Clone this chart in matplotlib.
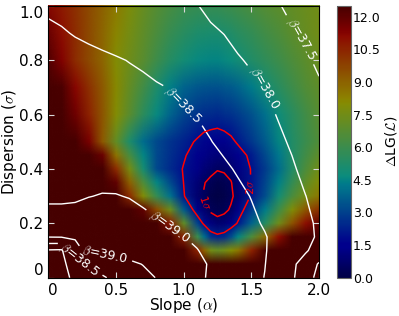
import numpy as np
import matplotlib
matplotlib.use('Agg')
import matplotlib.pyplot as plt
from matplotlib.colors import ListedColormap
from matplotlib.image import NonUniformImage

plt.rcParams['mathtext.fontset'] = 'cm'

# grid for Delta LG (finer around the minimum)
alpha_l = [0.0, 0.1, 0.2, 0.3, 0.4, 0.5, 0.6, 0.7, 0.8, 0.9, 1.0, 1.1,
           1.15, 1.2, 1.25, 1.3, 1.35, 1.4, 1.5, 1.6, 1.7, 1.8, 1.9, 2.0]
sigma_l = [0.0, 0.05, 0.1, 0.15, 0.2, 0.25, 0.3, 0.35, 0.4, 0.45,
           0.5, 0.6, 0.7, 0.8, 0.9, 1.0]

# Delta LG(L) (>12.5 is saturated)
dlg = [
    [16, 16, 16, 16, 16, 16, 16, 16, 16, 16, 16, 16, 16, 16, 16, 16, 16, 16, 16, 16, 16, 16, 16, 16],
    [16, 16, 16, 16, 16, 16, 16, 16, 16, 16, 16, 15, 14.2, 13.5, 13.3, 13.5, 13.7, 14, 15, 16, 16, 16, 16, 16],
    [16, 16, 16, 16, 16, 16, 16, 16, 16, 16, 14, 10.5, 9.0, 7.5, 7.2, 7.5, 8.0, 8.5, 10.5, 13.2, 15, 16, 16, 16],
    [16, 16, 16, 16, 16, 16, 16, 16, 16, 13.0, 10.5, 6.0, 4.0, 2.6, 2.3, 2.5, 3.3, 4.5, 6.5, 8.8, 11.0, 12.5, 14, 15],
    [16, 16, 16, 16, 16, 16, 16, 16, 13.5, 10.8, 7.0, 3.0, 1.8, 1.1, 0.8, 0.95, 1.3, 2.1, 3.8, 5.4, 7.4, 9.4, 11.0, 12.0],
    [16, 16, 16, 16, 16, 16, 14.5, 12.0, 9.5, 7.3, 3.6, 1.3, 0.8, 0.35, 0.2, 0.3, 0.6, 1.3, 2.9, 4.3, 6.1, 7.9, 9.3, 10.2],
    [16, 16, 16, 16, 16, 13.4, 10.3, 7.9, 5.8, 4.1, 2.1, 0.8, 0.45, 0.12, 0.0, 0.1, 0.35, 0.8, 2.1, 3.3, 4.9, 6.4, 7.6, 8.5],
    [16, 16, 16, 16, 15.0, 12.0, 9.0, 6.5, 4.5, 3.2, 2.0, 0.95, 0.55, 0.3, 0.15, 0.25, 0.45, 0.95, 2.05, 3.1, 4.4, 5.8, 7.0, 8.0],
    [16, 16, 16, 16, 14.0, 10.3, 7.6, 5.0, 3.2, 2.5, 1.95, 1.3, 0.95, 0.75, 0.55, 0.6, 0.8, 1.2, 2.05, 2.9, 4.0, 5.3, 6.5, 7.5],
    [16, 16, 16, 14.5, 11.8, 8.6, 6.3, 4.5, 3.2, 2.6, 2.1, 1.6, 1.3, 1.1, 1.0, 1.05, 1.2, 1.6, 2.2, 3.2, 4.2, 5.3, 6.2, 7.0],
    [16, 15, 14, 11.5, 9.2, 7.1, 5.2, 4.0, 3.2, 2.7, 2.3, 1.9, 1.7, 1.6, 1.55, 1.6, 1.8, 2.1, 2.8, 3.6, 4.5, 5.3, 6.0, 6.6],
    [15, 13.0, 11.7, 10.5, 9.3, 8.0, 6.8, 5.6, 4.6, 3.8, 3.1, 2.7, 2.55, 2.5, 2.45, 2.6, 2.7, 2.9, 3.4, 4.1, 4.8, 5.5, 6.2, 6.8],
    [15, 12.4, 11.2, 10.2, 9.2, 8.1, 7.1, 6.2, 5.2, 4.4, 3.8, 3.5, 3.45, 3.4, 3.4, 3.5, 3.6, 3.8, 4.3, 4.9, 5.5, 6.1, 6.6, 7.0],
    [12.3, 11.3, 10.3, 9.6, 8.9, 8.0, 7.4, 6.8, 6.1, 5.4, 4.9, 4.6, 4.55, 4.5, 4.5, 4.6, 4.7, 4.9, 5.3, 5.7, 6.1, 6.5, 6.9, 7.3],
    [11.8, 11.0, 10.3, 9.6, 8.9, 8.2, 7.6, 7.0, 6.4, 5.9, 5.5, 5.2, 5.15, 5.1, 5.1, 5.2, 5.3, 5.5, 5.8, 6.2, 6.5, 6.9, 7.2, 7.5],
    [11.2, 10.7, 10.2, 9.6, 9.0, 8.4, 7.8, 7.2, 6.7, 6.3, 6.0, 5.9, 5.9, 5.9, 5.9, 6.0, 6.1, 6.2, 6.4, 6.7, 6.9, 7.1, 7.3, 7.5],
]

# grid for beta
alpha_b = [0.0, 0.1, 0.2, 0.3, 0.4, 0.5, 0.6, 0.7, 0.8, 0.9, 1.0,
           1.1, 1.2, 1.3, 1.4, 1.5, 1.6, 1.7, 1.8, 1.9, 2.0]
sigma_b = [0.0, 0.05, 0.1, 0.15, 0.2, 0.3, 0.4, 0.5, 0.6, 0.7, 0.8, 0.9, 1.0]

# beta
beta = [
    [37.6, 37.85, 38.1, 38.3, 38.45, 38.6, 38.75, 38.9, 39.01, 39.08, 39.1, 39.05, 38.97, 38.85, 38.73, 38.62, 38.49, 38.27, 38.05, 37.8, 37.3],
    [37.7, 37.9, 38.2, 38.52, 38.7, 38.83, 38.93, 39.01, 39.07, 39.1, 39.09, 39.05, 38.98, 38.87, 38.76, 38.64, 38.51, 38.3, 38.07, 37.85, 37.45],
    [37.95, 37.93, 38.85, 39.12, 39.16, 39.17, 39.16, 39.14, 39.11, 39.08, 39.05, 39.01, 38.93, 38.84, 38.74, 38.63, 38.52, 38.38, 38.2, 38.04, 37.85],
    [39.01, 39.02, 39.04, 39.1, 39.13, 39.14, 39.13, 39.11, 39.08, 39.04, 39.005, 38.95, 38.87, 38.79, 38.7, 38.6, 38.52, 38.4, 38.26, 38.1, 37.95],
    [39.1, 39.1, 39.1, 39.12, 39.13, 39.13, 39.11, 39.07, 39.03, 38.98, 38.92, 38.86, 38.8, 38.73, 38.65, 38.56, 38.47, 38.35, 38.22, 38.07, 37.95],
    [38.96, 38.96, 38.97, 38.995, 39.01, 39.01, 38.99, 38.95, 38.9, 38.86, 38.82, 38.77, 38.72, 38.65, 38.57, 38.49, 38.39, 38.27, 38.14, 38.005, 37.9],
    [38.94, 38.94, 38.94, 38.93, 38.92, 38.9, 38.87, 38.84, 38.8, 38.76, 38.72, 38.67, 38.61, 38.55, 38.47, 38.38, 38.28, 38.18, 38.04, 37.92, 37.83],
    [38.88, 38.88, 38.87, 38.86, 38.84, 38.82, 38.79, 38.76, 38.72, 38.68, 38.63, 38.58, 38.51, 38.43, 38.34, 38.25, 38.16, 38.06, 37.96, 37.85, 37.75],
    [38.81, 38.8, 38.79, 38.77, 38.75, 38.72, 38.69, 38.65, 38.61, 38.57, 38.53, 38.49, 38.42, 38.34, 38.26, 38.18, 38.08, 37.98, 37.85, 37.75, 37.65],
    [38.74, 38.73, 38.71, 38.69, 38.66, 38.63, 38.6, 38.57, 38.53, 38.49, 38.43, 38.36, 38.29, 38.21, 38.14, 38.07, 37.99, 37.9, 37.78, 37.67, 37.55],
    [38.66, 38.64, 38.62, 38.59, 38.56, 38.53, 38.49, 38.45, 38.39, 38.33, 38.27, 38.21, 38.15, 38.09, 38.03, 37.96, 37.87, 37.78, 37.69, 37.56, 37.43],
    [38.56, 38.53, 38.48, 38.44, 38.4, 38.35, 38.31, 38.26, 38.22, 38.17, 38.13, 38.08, 38.04, 37.995, 37.91, 37.83, 37.74, 37.65, 37.53, 37.45, 37.38],
    [38.45, 38.41, 38.37, 38.33, 38.29, 38.25, 38.21, 38.17, 38.13, 38.09, 38.05, 38.01, 37.94, 37.86, 37.77, 37.69, 37.6, 37.52, 37.43, 37.35, 37.26],
]

beta_levels = [37.5, 38.0, 38.5, 39.0]
sig_levels = [0.5, 2.0]
sig_names = [r'1$\sigma$', r'2$\sigma$']
cbar_ticks = [0.0, 1.5, 3.0, 4.5, 6.0, 7.5, 9.0, 10.5, 12.0]
xticks = [0, 0.5, 1.0, 1.5, 2.0]
xlabels = ['0', '0.5', '1.0', '1.5', '2.0']
yticks = [0, 0.2, 0.4, 0.6, 0.8, 1.0]
ylabels = ['0', '0.2', '0.4', '0.6', '0.8', '1.0']

dlg = np.array(dlg, dtype=float)
beta = np.array(beta)
Al, Sl = np.meshgrid(alpha_l, sigma_l)
Ab, Sb = np.meshgrid(alpha_b, sigma_b)

# dimmed jet
cols = plt.get_cmap('jet')(np.linspace(0, 1, 256))
cols[:, :3] *= 0.55
cmap = ListedColormap(cols)

fig = plt.figure(figsize=(3.99, 3.16), dpi=100)
ax = fig.add_axes([0.1203, 0.1212, 0.6792, 0.8598])
cax = fig.add_axes([0.8439, 0.1212, 0.0351, 0.8598])

im = NonUniformImage(ax, interpolation='bilinear', extent=(0, 2, 0, 1), cmap=cmap)
im.set_data(alpha_l, sigma_l, dlg)
im.set_clim(0, 12.5)
ax.add_image(im)

cs = ax.contour(Ab, Sb, beta, levels=beta_levels, colors='white', linewidths=1.0)
ax.clabel(cs, fmt=lambda v: r'$\beta$=%.1f' % v, fontsize=9, inline=True,
          manual=[(1.86, 0.875), (1.57, 0.69), (1.01, 0.64), (0.915, 0.20),
                  (0.42, 0.093), (0.236, 0.072)])

cr = ax.contour(Al, Sl, dlg, levels=sig_levels, colors='red', linewidths=1.1)
ax.clabel(cr, fmt=dict(zip(sig_levels, sig_names)), fontsize=8, inline=True,
          manual=[(1.14, 0.275), (1.475, 0.333)])

ax.set_xlim(0, 2)
ax.set_ylim(0, 1)
ax.set_xticks(xticks)
ax.set_xticklabels(xlabels)
ax.set_yticks(yticks)
ax.set_yticklabels(ylabels)
ax.get_xticklabels()[0].set_ha('left')
ax.get_yticklabels()[0].set_va('bottom')
ax.get_yticklabels()[-1].set_va('top')
ax.tick_params(direction='in', top=True, right=True, length=4, color='0.85', labelsize=11)
ax.set_xlabel(r'Slope ($\alpha$)', fontsize=11)
ax.set_ylabel(r'Dispersion ($\sigma$)', fontsize=11)
ax.xaxis.set_label_coords(0.5, -0.068)
ax.yaxis.set_label_coords(-0.108, 0.5)

cb = fig.colorbar(im, cax=cax, ticks=cbar_ticks, format='%.1f')
cb.ax.tick_params(direction='in', length=0, pad=1.5, labelsize=9)
cb.outline.set_edgecolor('0.4')
cb.set_label(r'$\Delta$LG($\mathcal{L}$)', fontsize=10)
cb.ax.yaxis.set_label_coords(3.3, 0.5)

fig.savefig('out.png', dpi=100)
